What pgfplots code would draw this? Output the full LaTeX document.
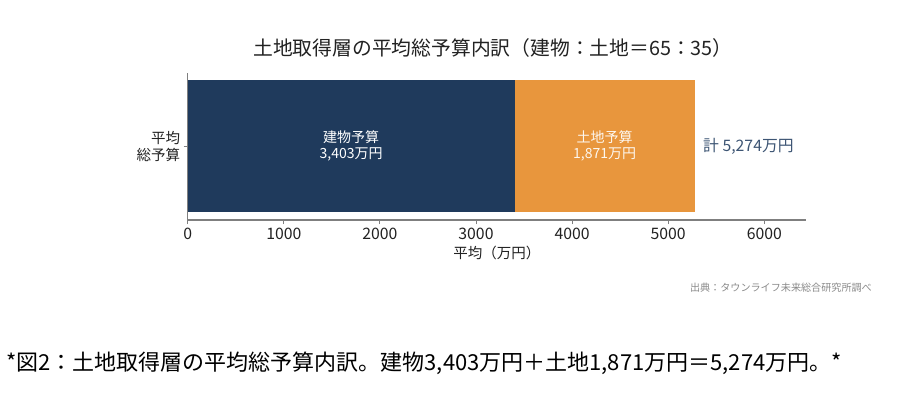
\documentclass[border=0pt]{standalone}
\usepackage{fontspec}
\setmainfont{Noto Sans CJK JP}
\newfontfamily\capfont{Noto Sans CJK JP}
\usepackage{pgfplots}
\pgfplotsset{compat=1.18}
\definecolor{navy}{HTML}{1F3A5C}
\definecolor{orng}{HTML}{E8963D}
\definecolor{totc}{HTML}{3D5574}
\definecolor{spine}{HTML}{7F7F7F}
\definecolor{txt}{HTML}{222222}
\definecolor{src}{HTML}{8A8A8A}
\begin{document}
\begin{tikzpicture}
\useasboundingbox (0pt,0pt) rectangle (903pt,416pt);
\fill[white] (0pt,0pt) rectangle (903pt,416pt);
\begin{axis}[
  at={(187.7pt,269.65pt)}, anchor=origin,
  scale only axis, width=618.3pt, height=147.3pt,
  xbar stacked, bar width=1,
  xmin=0, xmax=6434, ymin=-0.559, ymax=0.559,
  axis x line*=bottom, axis y line*=left,
  axis line style={spine, line width=1.4pt},
  xtick={0,1000,2000,3000,4000,5000,6000},
  ytick={0}, yticklabels={{平均\\総予算}},
  tick style={spine, line width=0.8pt},
  major tick length=4pt, tick align=outside,
  /pgf/number format/assume math mode=true,
  /pgf/number format/1000 sep={},
  xticklabel style={font=\fontsize{15.8}{18}\selectfont, text=txt},
  yticklabel style={font=\fontsize{14.5}{16.5}\selectfont, text=txt, align=right},
  xlabel={平均（万円）},
  xlabel style={font=\fontsize{14.5}{17}\selectfont, text=txt},
  clip=false,
]
\addplot[fill=navy, draw=none] coordinates {(3403,0)};
\addplot[fill=orng, draw=none] coordinates {(1871,0)};
\coordinate (lb) at (axis cs:1701.5,0);
\coordinate (ll) at (axis cs:4338.5,0);
\coordinate (lt) at (axis cs:5274,0);
\end{axis}
\node[text=white, align=center, font=\fontsize{14}{16}\selectfont] at (lb) {建物予算\\3,403万円};
\node[text=white!92!orng, align=center, font=\fontsize{14}{16}\selectfont] at (ll) {土地予算\\1,871万円};
\node[text=totc, anchor=west, font=\fontsize{15.8}{18}\selectfont, inner sep=0pt] at ([xshift=8.5pt]lt) {計 5,274万円};
\node[text=txt, font=\fontsize{19.8}{22}\selectfont] at (493pt,368pt) {土地取得層の平均総予算内訳（建物：土地＝65：35）};
\node[text=src, anchor=east, inner sep=0pt, font=\fontsize{10.1}{12}\selectfont] at (872pt,128pt) {出典：タウンライフ未来総合研究所調べ};
\node[text=black, anchor=west, inner sep=0pt, font=\capfont\fontsize{22}{24}\selectfont] at (6pt,53pt) {*図2：土地取得層の平均総予算内訳。建物3,403万円＋土地1,871万円＝5,274万円。*};
\end{tikzpicture}
\end{document}
